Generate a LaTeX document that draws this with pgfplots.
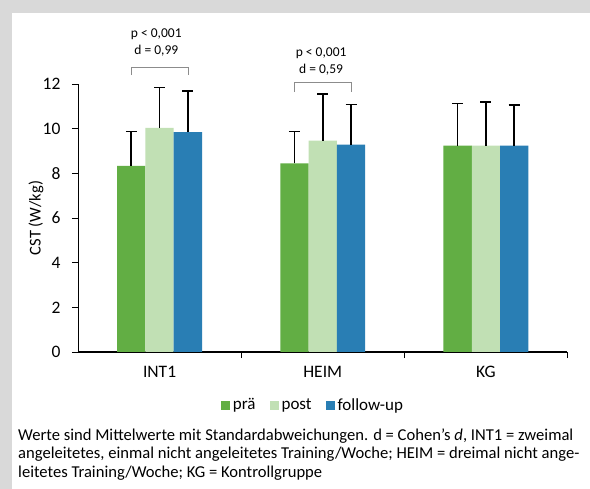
\documentclass[border=0pt]{standalone}
\usepackage{fontspec}
\setmainfont{Carlito}
\usepackage{pgfplots}
\pgfplotsset{compat=1.18}
\definecolor{cgreen}{RGB}{98,174,68}
\definecolor{clight}{RGB}{193,224,180}
\definecolor{cblue}{RGB}{41,126,180}
\definecolor{bggray}{RGB}{217,217,217}
\definecolor{brgray}{RGB}{140,140,140}
\pgfplotsset{sqlegend/.style={legend image code/.code={\fill[##1] (0pt,-4.5pt) rectangle (9pt,4.5pt);}}}
\begin{document}
\begin{tikzpicture}[x=1pt,y=1pt]
\fill[bggray] (0,0) rectangle (590,-489);
\fill[white] (12,-13) rectangle (590,-489);
\path[use as bounding box] (0,0) rectangle (590,-489);
\begin{axis}[
  at={(78pt,-352pt)}, anchor=south west,
  scale only axis, width=489.5pt, height=268pt,
  xmin=-0.5, xmax=2.5, ymin=0, ymax=12,
  ybar=0pt, bar width=28.3pt,
  axis lines=left, axis line style={-, black},
  x axis line style={line width=1.2pt},
  y axis line style={line width=0.8pt},
  xtick={0.5,1.5,2.5}, xticklabels={},
  extra x ticks={0,1,2}, extra x tick labels={INT1,HEIM,KG},
  extra x tick style={major tick length=0pt, xticklabel style={yshift=-11pt}},
  ytick={0,2,...,12},
  tick align=outside, major tick length=6pt,
  tick style={black, line width=0.8pt},
  /pgf/number format/assume math mode=true,
  ticklabel style={font=\fontsize{17.5}{20}\selectfont},
  yticklabel style={xshift=-8pt},
  ylabel={CST (W/kg)},
  ylabel style={font=\fontsize{16.5}{19}\selectfont, at={(axis description cs:-0.086,0.5)}, anchor=center},
  clip=false,
  legend columns=3,
  legend style={draw=none, fill=none, at={(0.480,-0.198)}, anchor=center,
    font=\fontsize{17}{20}\selectfont,
    /tikz/every even column/.append style={column sep=12pt},
    /tikz/every odd column/.append style={column sep=1pt}},
  error bars/y dir=plus, error bars/y explicit,
  error bars/error bar style={black, line width=1.6pt},
  error bars/error mark options={black, rotate=90, line width=1.6pt, mark size=5.5pt},
]
\addplot[fill=cgreen, draw=none, sqlegend] coordinates {(0,8.33) +- (0,1.54) (1,8.45) +- (0,1.43) (2,9.24) +- (0,1.88)};
\addplot[fill=clight, draw=none, sqlegend] coordinates {(0,10.04) +- (0,1.81) (1,9.46) +- (0,2.08) (2,9.24) +- (0,1.96)};
\addplot[fill=cblue, draw=none, sqlegend] coordinates {(0,9.85) +- (0,1.84) (1,9.28) +- (0,1.81) (2,9.24) +- (0,1.81)};
\legend{prä, post, follow-up}
\draw[brgray, line width=0.9pt] (axis cs:-0.174,12.40) -- (axis cs:-0.174,12.76) -- (axis cs:0.174,12.76) -- (axis cs:0.174,12.40);
\draw[brgray, line width=0.9pt] (axis cs:0.826,11.64) -- (axis cs:0.826,12.06) -- (axis cs:1.174,12.06) -- (axis cs:1.174,11.64);
\node[font=\fontsize{13.5}{15}\selectfont] at (axis cs:-0.02,14.24) {p < 0,001};
\node[font=\fontsize{13.5}{15}\selectfont] at (axis cs:-0.02,13.48) {d = 0,99};
\node[font=\fontsize{13.5}{15}\selectfont] at (axis cs:0.99,13.38) {p < 0,001};
\node[font=\fontsize{13.5}{15}\selectfont] at (axis cs:0.99,12.66) {d = 0,59};
\end{axis}
\begin{scope}[font=\fontsize{16.6}{20}\selectfont]
\node[anchor=base west, inner sep=0pt] at (18,-440.7) {Werte sind Mittelwerte mit Standardabweichungen. d = Cohen’s \textit{d}, INT1 = zweimal};
\node[anchor=base west, inner sep=0pt] at (18,-459) {angeleitetes, einmal nicht angeleitetes Training/Woche; HEIM = dreimal nicht ange-};
\node[anchor=base west, inner sep=0pt] at (18,-477.3) {leitetes Training/Woche; KG = Kontrollgruppe};
\end{scope}
\end{tikzpicture}
\end{document}
